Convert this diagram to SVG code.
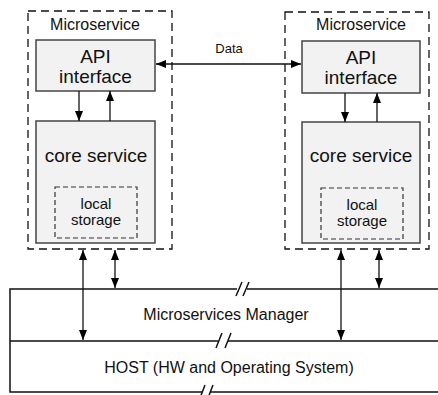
<svg xmlns="http://www.w3.org/2000/svg" width="438" height="395" viewBox="0 0 438 395">
<style>
text{font-family:"Liberation Sans",Arial,sans-serif;fill:#111;text-anchor:middle}
.ms{fill:none;stroke:#111;stroke-width:1.3;stroke-dasharray:8,5}
.box{fill:#f2f2f2;stroke:#444;stroke-width:1.5}
.ls{fill:none;stroke:#333;stroke-width:1.2;stroke-dasharray:5,3}
.ln{stroke:#111;stroke-width:1.5;fill:none}
.ar{stroke:#111;stroke-width:1.3;fill:none}
</style>
<defs>
<marker id="ah" markerUnits="userSpaceOnUse" markerWidth="10" markerHeight="8" refX="10" refY="4" orient="auto-start-reverse">
<path d="M0,0 L10,4 L0,8 z" fill="#000"/>
</marker>
</defs>
<g id="ms1">
<rect class="ms" x="28" y="11" width="144" height="238"/>
<text x="95" y="30" font-size="16">Microservice</text>
<g id="api1"><rect class="box" x="36" y="40" width="119" height="51"/>
<text x="95.5" y="63" font-size="19">API</text><text x="95.5" y="83" font-size="19">interface</text></g>
<g id="core1"><rect class="box" x="36" y="121" width="119" height="122"/>
<text x="96" y="162" font-size="19">core service</text></g>
<g id="ls1"><rect class="ls" x="55" y="187" width="82" height="51"/>
<text x="96" y="209" font-size="15">local</text><text x="96" y="225" font-size="15">storage</text></g>
</g>
<g id="ms2">
<rect class="ms" x="285" y="12" width="144" height="237"/>
<text x="361" y="30" font-size="16">Microservice</text>
<g id="api2"><rect class="box" x="302" y="41" width="118" height="52"/>
<text x="361" y="64" font-size="19">API</text><text x="361" y="84" font-size="19">interface</text></g>
<g id="core2"><rect class="box" x="302" y="122" width="118" height="121"/>
<text x="361" y="162" font-size="19">core service</text></g>
<g id="ls2"><rect class="ls" x="321" y="188" width="82" height="51"/>
<text x="362" y="210" font-size="15">local</text><text x="362" y="226" font-size="15">storage</text></g>
</g>
<g id="host">
<path class="ln" d="M237,289 H10 V392 H202 M210,392 H438 M247,289 H438"/>
<path class="ln" stroke-width="2" d="M10,341 H218 M228,341 H438"/>
<path class="ln" stroke-width="1.2" d="M242,282 L236,296 M249,282 L243,296 M222,333 L216,348 M231,333 L225,348 M205,385 L200,398 M213,385 L208,398"/>
<text x="226" y="320" font-size="16">Microservices Manager</text>
<text x="229" y="373" font-size="16">HOST (HW and Operating System)</text>
</g>
<g id="connectors">
<line class="ar" x1="79" y1="91" x2="79" y2="121" marker-end="url(#ah)"/>
<line class="ar" x1="110" y1="121" x2="110" y2="91" marker-end="url(#ah)"/>
<line class="ar" x1="345" y1="93" x2="345" y2="122" marker-end="url(#ah)"/>
<line class="ar" x1="377" y1="122" x2="377" y2="93" marker-end="url(#ah)"/>
<line class="ar" x1="156" y1="64" x2="301" y2="64" marker-start="url(#ah)" marker-end="url(#ah)"/>
<text x="229" y="53" font-size="13">Data</text>
<line class="ar" x1="83" y1="250" x2="83" y2="340" marker-start="url(#ah)" marker-end="url(#ah)"/>
<line class="ar" x1="115" y1="250" x2="115" y2="288" marker-start="url(#ah)" marker-end="url(#ah)"/>
<line class="ar" x1="341" y1="250" x2="341" y2="340" marker-start="url(#ah)" marker-end="url(#ah)"/>
<line class="ar" x1="379" y1="250" x2="379" y2="288" marker-start="url(#ah)" marker-end="url(#ah)"/>
</g>
</svg>
